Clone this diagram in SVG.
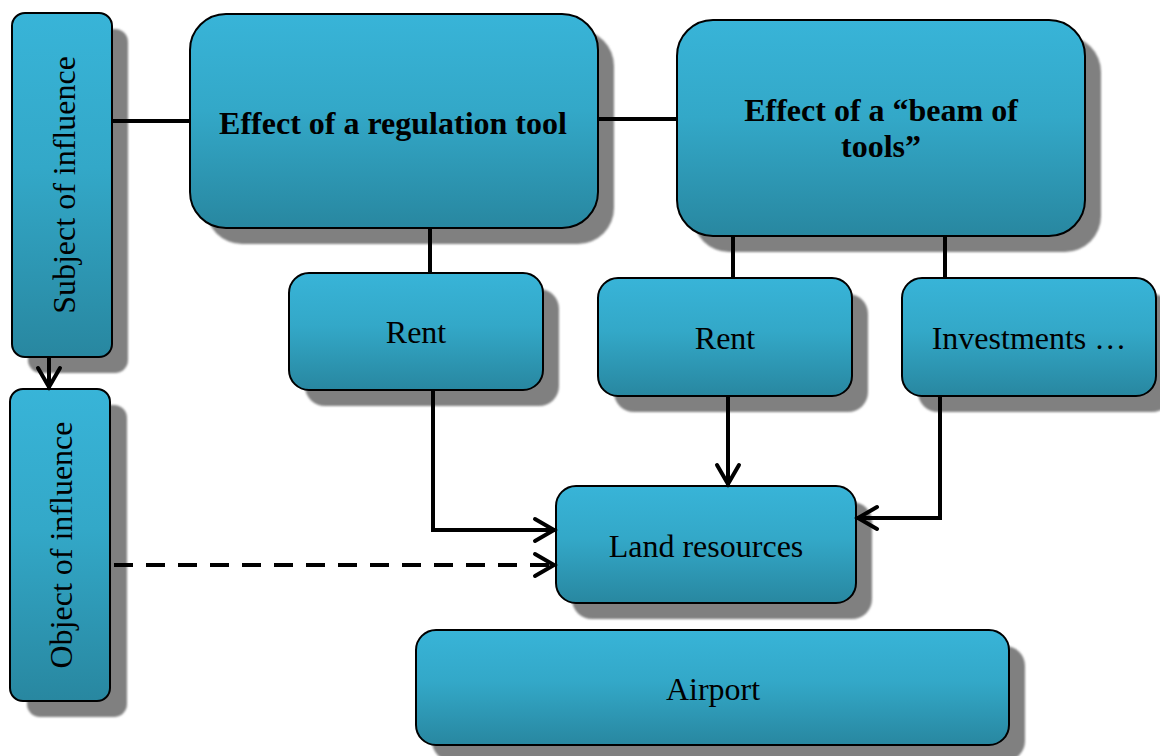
<svg xmlns="http://www.w3.org/2000/svg" width="1160" height="756" viewBox="0 0 1160 756">
  <defs>
    <linearGradient id="fillGrad" x1="0" y1="0" x2="0" y2="1">
      <stop offset="0" stop-color="#38b4d8"/>
      <stop offset="0.45" stop-color="#33a8c8"/>
      <stop offset="1" stop-color="#2887a0"/>
    </linearGradient>
    <filter id="soft" x="-5%" y="-5%" width="110%" height="110%">
      <feGaussianBlur stdDeviation="0.8"/>
    </filter>
    <marker id="arrow" viewBox="-26 -15 30 30" refX="0" refY="0" markerWidth="30" markerHeight="30" markerUnits="userSpaceOnUse" orient="auto">
      <path d="M-21,-11 L-2,0 L-21,11" fill="none" stroke="#000" stroke-width="4" stroke-linecap="round" stroke-linejoin="miter" stroke-dasharray="none"/>
    </marker>
  </defs>
  <style>
    .shadow { fill: #808080; filter: url(#soft); }
    .box { fill: url(#fillGrad); stroke: #000; stroke-width: 2; }
    .lbl { font-family: "Liberation Serif", "Times New Roman", serif; font-size: 32px; fill: #000; text-anchor: middle; }
    .bold { font-weight: bold; }
    .conn { fill: none; stroke: #000; stroke-width: 4; }
    .arr { marker-end: url(#arrow); }
    .dash { stroke-dasharray: 19 13; }
  </style>
  <rect width="1160" height="756" fill="#fff"/>

  <g id="node-subject">
    <rect class="shadow" x="28" y="29" width="100" height="344" rx="13"/>
    <rect class="box" x="12" y="13" width="100" height="344" rx="13"/>
    <text class="lbl" transform="translate(75,185) rotate(-90)">Subject of influence</text>
  </g>

  <g id="node-object">
    <rect class="shadow" x="27" y="405" width="100" height="312" rx="13"/>
    <rect class="box" x="10" y="389" width="100" height="312" rx="13"/>
    <text class="lbl" transform="translate(72,545) rotate(-90)">Object of influence</text>
  </g>

  <g id="node-regulation">
    <rect class="shadow" x="206" y="30" width="408" height="214" rx="36"/>
    <rect class="box" x="190" y="14" width="408" height="214" rx="36"/>
    <text class="lbl bold" x="393" y="134">Effect of a regulation tool</text>
  </g>

  <g id="node-beam">
    <rect class="shadow" x="693" y="36" width="408" height="216" rx="36"/>
    <rect class="box" x="677" y="20" width="408" height="216" rx="36"/>
    <text class="lbl bold" x="881" y="121">Effect of a “beam of</text>
    <text class="lbl bold" x="881" y="157">tools”</text>
  </g>

  <g id="node-rent1">
    <rect class="shadow" x="305" y="289" width="254" height="117" rx="20"/>
    <rect class="box" x="289" y="273" width="254" height="117" rx="20"/>
    <text class="lbl" x="416" y="343">Rent</text>
  </g>

  <g id="node-rent2">
    <rect class="shadow" x="614" y="294" width="254" height="118" rx="20"/>
    <rect class="box" x="598" y="278" width="254" height="118" rx="20"/>
    <text class="lbl" x="725" y="349">Rent</text>
  </g>

  <g id="node-investments">
    <rect class="shadow" x="918" y="294" width="254" height="118" rx="20"/>
    <rect class="box" x="902" y="278" width="254" height="118" rx="20"/>
    <text class="lbl" x="1029" y="349">Investments …</text>
  </g>

  <g id="node-land">
    <rect class="shadow" x="572" y="502" width="300" height="117" rx="20"/>
    <rect class="box" x="556" y="486" width="300" height="117" rx="20"/>
    <text class="lbl" x="706" y="557">Land resources</text>
  </g>

  <g id="node-airport">
    <rect class="shadow" x="432" y="646" width="593" height="115" rx="20"/>
    <rect class="box" x="416" y="630" width="593" height="115" rx="20"/>
    <text class="lbl" x="713" y="700">Airport</text>
  </g>

  <g id="connectors">
    <path class="conn" d="M112,121 H190"/>
    <path class="conn" d="M598,119 H677"/>
    <path class="conn" d="M430,228 V273"/>
    <path class="conn" d="M733,236 V278"/>
    <path class="conn" d="M945,236 V278"/>
    <path class="conn arr" d="M49,357 V389"/>
    <path class="conn arr" d="M433,390 V530 H556"/>
    <path class="conn arr" d="M728,396 V486"/>
    <path class="conn arr" d="M940,396 V518 H856"/>
    <path class="conn arr dash" d="M114,565 H556"/>
  </g>
</svg>
